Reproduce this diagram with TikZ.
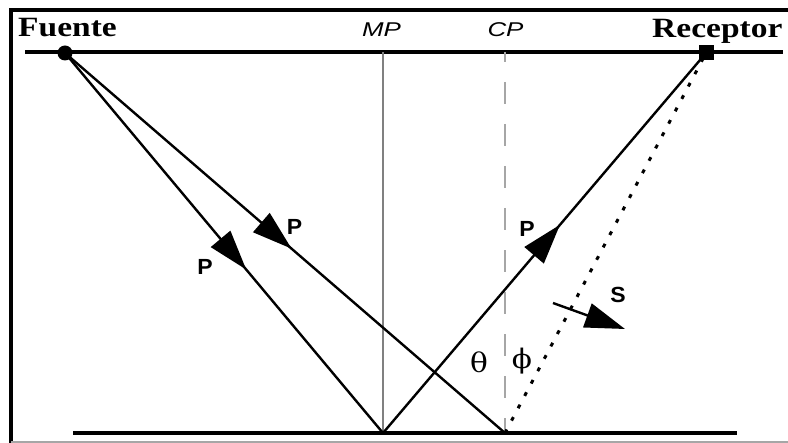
\documentclass[tikz,border=0pt]{standalone}
\usepackage{fontspec}
\setmainfont{Liberation Serif}
\newfontfamily\sansf{Liberation Sans}
\newfontfamily\greekf{DejaVu Serif}
\usetikzlibrary{arrows.meta,decorations.markings}
\tikzset{
	ray/.style={line width=2.4bp, color=black},
	raymark/.style={postaction={decorate}, decoration={markings, mark=at position #1 with {\arrow{Triangle[length=40bp,width=25bp]}}}},
	title/.style={font=\bfseries\fontsize{28}{28}\selectfont, xscale=1.2, inner sep=0pt},
	plane/.style={font=\sansf\itshape\fontsize{20}{20}\selectfont, xscale=1.3, inner sep=0pt},
	wave/.style={font=\sansf\bfseries\fontsize{22}{22}\selectfont, xscale=1.05, inner sep=0pt},
	angle/.style={font=\greekf\fontsize{27}{27}\selectfont, xscale=1.1, inner sep=0pt}
}

\begin{document}
\begin{tikzpicture}[x=1bp, y=-1bp]
		%%%%% START %%%%%
		\useasboundingbox (0, 0) rectangle (788, 443);
		
		% frame
		\draw[line width=4bp] (11, 443) -- (11, 10) -- (788, 10);
		\draw[line width=1.5bp, color=black!35] (11, 442) -- (788, 442);
		
		% surface and reflector
		\draw[line width=4.5bp] (25, 52) -- (783, 52);
		\draw[line width=3.5bp] (73, 433) -- (737, 433);
		
		\coordinate (mptop) at (383, 52);
		\coordinate (mpbot) at (383, 433);
		\coordinate (cptop) at (505, 52);
		\coordinate (cpbot) at (505, 433);
		
		\draw[line width=2bp, color=black!50] (mptop) -- (mpbot);
		\draw[line width=2.2bp, color=black!35, dash pattern=on 22bp off 20bp, dash phase=12bp] (cptop) -- (cpbot);
		
		\node[circle, fill=black, minimum size=15bp, inner sep=0pt] (fuente) at (65, 53) {};
		\node[rectangle, fill=black, minimum size=15bp, inner sep=0pt] (receptor) at (706, 53) {};
		
		% rays
		\draw[ray, raymark=0.57] (fuente.center) -- (mpbot);
		\draw[ray, raymark=0.515] (fuente.center) -- (cpbot);
		\draw[ray, raymark=0.548] (mpbot) -- (receptor.center);
		\draw[line width=3bp, dash pattern=on 4bp off 10bp] (cpbot) -- (receptor.center);
		
		\coordinate (sa) at (553, 303);
		\coordinate (sb) at (625, 329);
		\draw[line width=2.4bp, -{Triangle[length=40bp,width=25bp]}] (sa) -- (sb);
		
		% labels
		\node[title, anchor=base] (lfuente) at (67.5, 37) {Fuente};
		\node[title, anchor=base west] (lreceptor) at (652, 38) {Receptor};
		\node[plane, anchor=base] (lmp) at (381.5, 37) {MP};
		\node[plane, anchor=base] (lcp) at (505.5, 37) {CP};
		
		\node[wave] (p1) at (294.5, 226.5) {P};
		\node[wave] (p2) at (205, 267) {P};
		\node[wave] (p3) at (527, 229) {P};
		\node[wave] (s1) at (618, 295) {S};
		
		\node[angle] (theta) at (479, 362) {θ};
		\node[angle] (phi) at (522, 361) {ϕ};
		
		%%%%% END %%%%%
	\end{tikzpicture}
\end{document}
